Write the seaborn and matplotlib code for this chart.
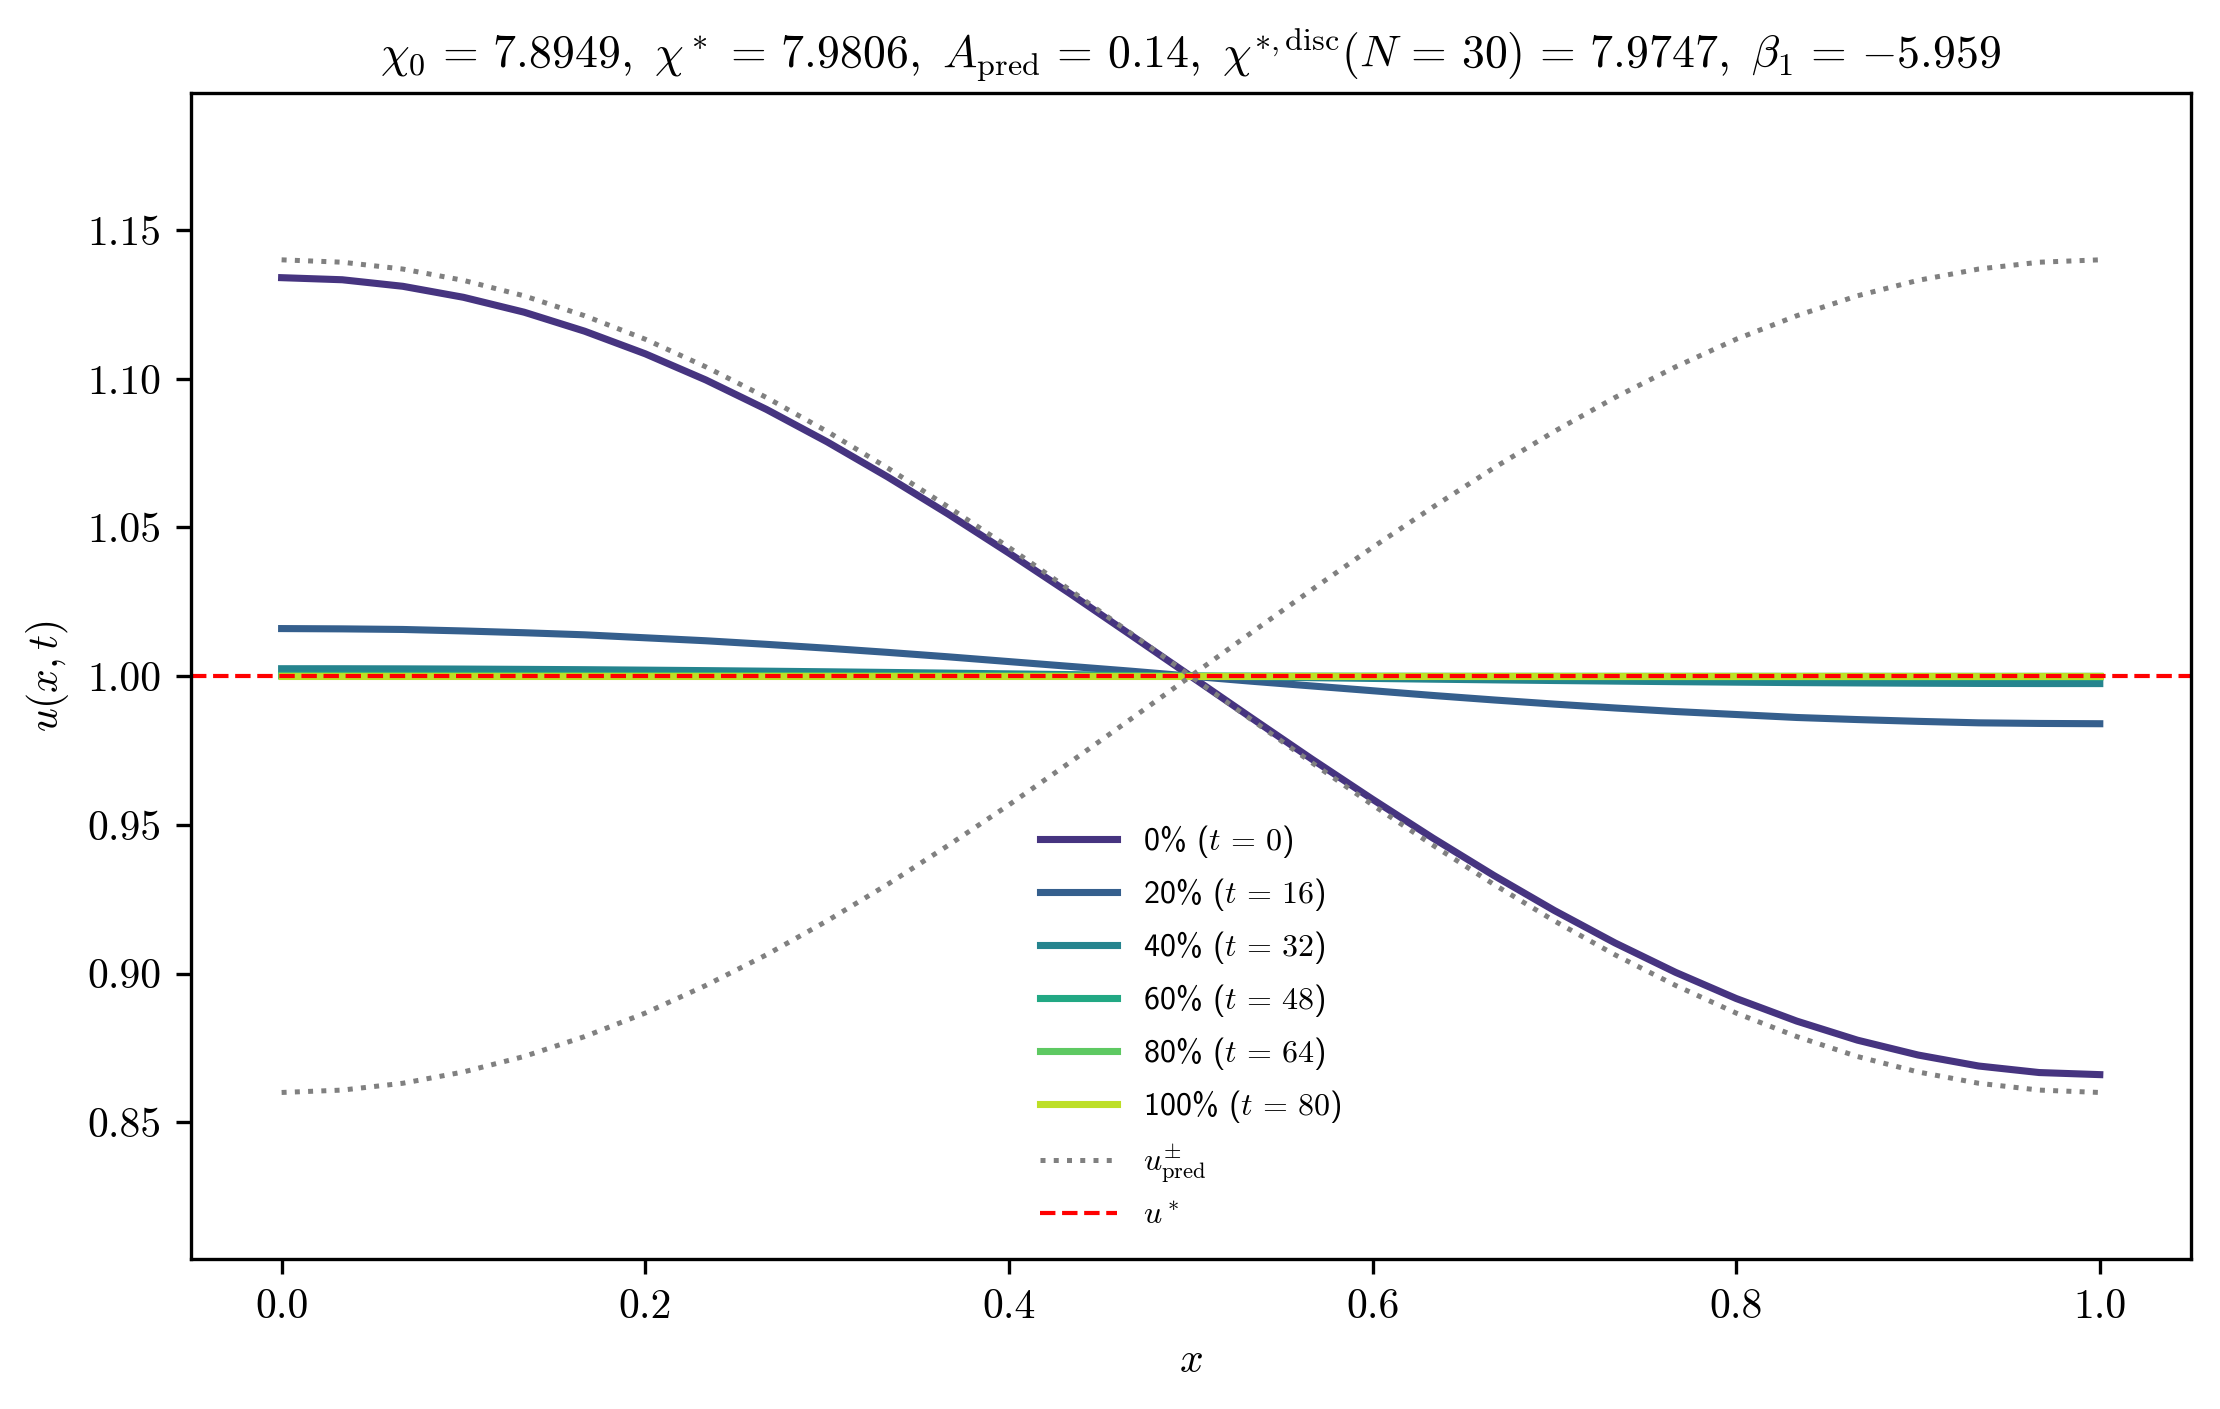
import numpy as np
import pandas as pd
import matplotlib
matplotlib.use("Agg")
import matplotlib.pyplot as plt
import seaborn as sns

plt.rcParams['font.family'] = 'serif'
plt.rcParams['font.serif'] = ['cmr10']
plt.rcParams['mathtext.fontset'] = 'cm'
plt.rcParams['axes.formatter.use_mathtext'] = True
plt.rcParams['axes.unicode_minus'] = False

# ---------------- data ----------------
x = [i / 30 for i in range(31)]

u_t0 = [1.1340, 1.1333, 1.1311, 1.1274, 1.1224, 1.1160, 1.1084, 1.0996, 1.0897, 1.0788,
        1.0670, 1.0545, 1.0414, 1.0279, 1.0140, 1.0000, 0.9860, 0.9721, 0.9586, 0.9455,
        0.9330, 0.9212, 0.9103, 0.9004, 0.8916, 0.8840, 0.8776, 0.8726, 0.8689, 0.8667,
        0.8660]
u_t16 = [1.0160, 1.0159, 1.0157, 1.0152, 1.0146, 1.0139, 1.0129, 1.0119, 1.0107, 1.0094,
         1.0080, 1.0065, 1.0049, 1.0033, 1.0017, 1.0000, 0.9983, 0.9967, 0.9951, 0.9935,
         0.9920, 0.9906, 0.9893, 0.9881, 0.9871, 0.9861, 0.9854, 0.9848, 0.9843, 0.9841,
         0.9840]
u_t32 = [1.00250, 1.00249, 1.00245, 1.00238, 1.00228, 1.00217, 1.00202, 1.00186, 1.00167, 1.00147,
         1.00125, 1.00102, 1.00077, 1.00052, 1.00026, 1.00000, 0.99974, 0.99948, 0.99923, 0.99898,
         0.99875, 0.99853, 0.99833, 0.99814, 0.99798, 0.99783, 0.99772, 0.99762, 0.99755, 0.99751,
         0.99750]
u_t48 = [1.00030, 1.00030, 1.00029, 1.00029, 1.00027, 1.00026, 1.00024, 1.00022, 1.00020, 1.00018,
         1.00015, 1.00012, 1.00009, 1.00006, 1.00003, 1.00000, 0.99997, 0.99994, 0.99991, 0.99988,
         0.99985, 0.99982, 0.99980, 0.99978, 0.99976, 0.99974, 0.99973, 0.99971, 0.99971, 0.99970,
         0.99970]
u_t64 = [1.00004, 1.00004, 1.00004, 1.00004, 1.00004, 1.00003, 1.00003, 1.00003, 1.00003, 1.00002,
         1.00002, 1.00002, 1.00001, 1.00001, 1.00000, 1.00000, 1.00000, 0.99999, 0.99999, 0.99998,
         0.99998, 0.99998, 0.99997, 0.99997, 0.99997, 0.99997, 0.99997, 0.99996, 0.99996, 0.99996,
         0.99996]
u_t80 = [1.0] * 31

u_pred_plus = [1.1400, 1.1392, 1.1369, 1.1331, 1.1279, 1.1212, 1.1133, 1.1040, 1.0937, 1.0823,
               1.0700, 1.0569, 1.0433, 1.0291, 1.0146, 1.0000, 0.9854, 0.9709, 0.9567, 0.9431,
               0.9300, 0.9177, 0.9063, 0.8960, 0.8867, 0.8788, 0.8721, 0.8669, 0.8631, 0.8608,
               0.8600]
u_pred_minus = [0.8600, 0.8608, 0.8631, 0.8669, 0.8721, 0.8788, 0.8867, 0.8960, 0.9063, 0.9177,
                0.9300, 0.9431, 0.9567, 0.9709, 0.9854, 1.0000, 1.0146, 1.0291, 1.0433, 1.0569,
                1.0700, 1.0823, 1.0937, 1.1040, 1.1133, 1.1212, 1.1279, 1.1331, 1.1369, 1.1392,
                1.1400]
u_star = 1.0
A_pred = 0.14

series_labels = [r"0% ($t\,=\,0$)", r"20% ($t\,=\,16$)", r"40% ($t\,=\,32$)",
                 r"60% ($t\,=\,48$)", r"80% ($t\,=\,64$)", r"100% ($t\,=\,80$)"]
series_values = [u_t0, u_t16, u_t32, u_t48, u_t64, u_t80]

title = (r"$\chi_0\,=\,7.8949,\ \chi^*\,=\,7.9806,\ A_{\mathrm{pred}}\,=\,0.14,\ "
         r"\chi^{*,\mathrm{disc}}(N\,=\,30)\,=\,7.9747,\ \beta_1\,=\,{-}5.959$")

# ---------------- figure ----------------
fig = plt.figure(figsize=(7.4, 1409 / 300), dpi=300)
ax = fig.add_axes([190.7 / 2220, 1 - 1259 / 1409, 2000 / 2220, (1259 - 93.3) / 1409])

colors = [plt.cm.viridis(v) for v in np.linspace(0.15, 0.9, 6)]

for lab, vals, c in zip(series_labels, series_values, colors):
    df = pd.DataFrame({"x": x, "u": vals})
    sns.lineplot(data=df, x="x", y="u", color=c, lw=1.7, label=lab, ax=ax,
                 estimator=None, sort=False)

dfp = pd.DataFrame({"x": x, "plus": u_pred_plus, "minus": u_pred_minus})
sns.lineplot(data=dfp, x="x", y="plus", color="gray", ls=":", lw=1.2,
             label=r"$u^{\pm}_{\mathrm{pred}}$", ax=ax, estimator=None, sort=False)
sns.lineplot(data=dfp, x="x", y="minus", color="gray", ls=":", lw=1.2,
             label="_nolegend_", ax=ax, estimator=None, sort=False)
ax.axhline(u_star, color="red", ls="--", lw=1.0, label=r"$u^*$")

ax.set_ylim(u_star - 1.4 * A_pred, u_star + 1.4 * A_pred)
ax.set_xlim(-0.05, 1.05)
ax.set_xticks([0.0, 0.2, 0.4, 0.6, 0.8, 1.0])
ax.set_yticks([0.85, 0.90, 0.95, 1.00, 1.05, 1.10, 1.15])
ax.set_yticklabels(["0.85", "0.90", "0.95", "1.00", "1.05", "1.10", "1.15"])
ax.set_xticklabels(["0.0", "0.2", "0.4", "0.6", "0.8", "1.0"])
ax.tick_params(labelsize=10)
ax.set_xlabel(r"$x$", fontsize=10)
ax.set_ylabel(r"$u(x,t)$", fontsize=10)
ax.set_title(title, fontsize=11, pad=6)

ax.legend(loc="lower center", frameon=False,
          prop={"family": ["cmss10", "DejaVu Sans"], "size": 7.7},
          handlelength=2.4)

fig.savefig("out.png", dpi=300)
